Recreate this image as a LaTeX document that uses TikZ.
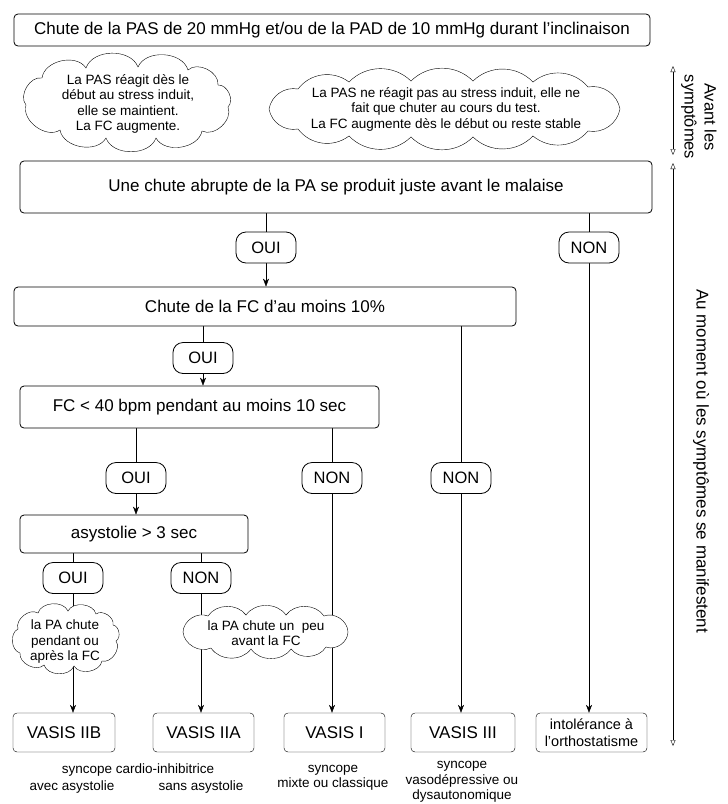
\documentclass[tikz,border=0pt]{standalone}
\usepackage{fontspec}
\setmainfont{Liberation Sans}
\usetikzlibrary{arrows.meta}
\pgfdeclarelayer{background}
\pgfdeclarelayer{mid}
\pgfsetlayers{background,mid,main}
% cloud outline: cx, cy, bend, first dx/dy, remaining dx/dy list (clockwise)
\newcommand\cloudpts[6]{%
  \path[draw,fill=white] ({#1+#4},{#2+#5})
    \foreach \dx/\dy in {#6}{ to[bend left=#3] ({#1+\dx},{#2+\dy}) }
    to[bend left=#3] ({#1+#4},{#2+#5}) -- cycle;}
\begin{document}
\begin{tikzpicture}[x=1pt,y=-1pt,line width=0.8pt,
  box/.style={draw,rounded corners=4pt,fill=white,inner sep=0pt,align=center,font=\fontsize{17}{20}\selectfont},
  pill/.style={draw,rounded corners=10pt,fill=white,inner sep=0pt,minimum width=60pt,minimum height=31pt,font=\fontsize{16.5}{19}\selectfont},
  cloudtext/.style={inner sep=0pt,align=center,font=\fontsize{13.5}{15.5}\selectfont},
  capt/.style={inner sep=0pt,align=center,font=\fontsize{13.5}{15.5}\selectfont},
  side/.style={inner sep=0pt,align=center,rotate=-90,font=\fontsize{16.5}{20}\selectfont},
  arr/.style={-{Stealth[length=8pt,width=6pt,inset=2.5pt]}},
  dbl/.style={{Triangle[open,length=6pt,width=5pt]}-{Triangle[open,length=6pt,width=5pt]}}
]
\useasboundingbox (0,0) rectangle (728,804);
% main boxes
\node[box,minimum width=636pt,minimum height=32pt] (top) at (332,30) {Chute de la PAS de 20 mmHg et/ou de la PAD de 10 mmHg durant l'inclinaison};
\node[cloudtext] (c1) at (128,104) {La PAS réagit dès le\\début au stress induit,\\elle se maintient.\\La FC augmente.};
\node[cloudtext] (c2) at (446,109) {La PAS ne réagit pas au stress induit, elle ne\\fait que chuter au cours du test.\\La FC augmente dès le début ou reste stable};
\node[box,minimum width=632pt,minimum height=52pt] (b1) at (336,187) {Une chute abrupte de la PA se produit juste avant le malaise};
\node[pill] (oui1) at (266,247.5) {OUI};
\node[pill] (non1) at (589,247.5) {NON};
\node[box,minimum width=502pt,minimum height=39pt] (b2) at (265,306.5) {Chute de la FC d'au moins 10\%};
\node[pill] (oui2) at (203,358) {OUI};
\node[box,minimum width=359pt,minimum height=42pt] (b3) at (199.5,407) {FC < 40 bpm pendant au moins 10 sec};
\node[pill] (oui3) at (136,478) {OUI};
\node[pill] (non3) at (332,478) {NON};
\node[pill] (non2) at (461,478) {NON};
\node[box,minimum width=228pt,minimum height=38pt] (b4) at (134,534) {asystolie > 3 sec};
\node[pill] (oui4) at (73,578) {OUI};
\node[pill] (non4) at (201,578) {NON};
\node[cloudtext] (c3) at (65,642) {la PA chute\\pendant ou\\après la FC};
\node[cloudtext] (c4) at (266,633) {la PA chute un~ peu\\avant la FC};
% cloud outlines
\begin{pgfonlayer}{mid}
\cloudpts{128}{103}{70}{100}{4}{74/28, 28/35, -22/35, -68/27, -102/2, -86/-25, -42/-35, 10/-36, 60/-33, 90/-18}
\cloudpts{446}{109}{45}{174}{0}{142/22, 87/27, 27/28, -35/28, -97/27, -148/20, -177/0, -148/-20, -97/-27, -35/-28, 27/-28, 87/-27, 142/-22}
\cloudpts{66}{639}{70}{50}{2}{36/22, 8/27, -22/26, -46/14, -48/-10, -28/-26, 2/-28, 30/-25, 47/-14}
\cloudpts{266}{632}{55}{82}{0}{60/15, 25/17, -15/17, -55/16, -83/0, -58/-16, -20/-17, 20/-17, 58/-16}
\end{pgfonlayer}
% results
\node[box,minimum width=102pt,minimum height=39pt] (v2b) at (64,732.5) {VASIS IIB};
\node[box,minimum width=101pt,minimum height=39pt] (v2a) at (203.5,732.5) {VASIS IIA};
\node[box,minimum width=101pt,minimum height=39pt] (v1) at (334.5,732.5) {VASIS I};
\node[box,minimum width=104pt,minimum height=39pt] (v3) at (463,732.5) {VASIS III};
\node[box,minimum width=111pt,minimum height=39pt,font=\fontsize{14.5}{17.5}\selectfont] (vi) at (591.5,732.5) {intolérance à\\l'orthostatisme};
% captions
\node[capt] (k1) at (138,770) {syncope cardio-inhibitrice};
\node[capt] (k2) at (72,787) {avec asystolie};
\node[capt] (k3) at (201,787) {sans asystolie};
\node[capt] (k4) at (333,778) {syncope\\mixte ou classique};
\node[capt] (k5) at (462,782) {syncope\\vasodépressive ou\\dysautonomique};
% side labels
\coordinate (s1t) at (673,66);
\coordinate (s1b) at (673,155);
\coordinate (s2t) at (673,163);
\coordinate (s2b) at (673,746);
\draw[dbl] (s1t) -- (s1b);
\draw[dbl] (s2t) -- (s2b);
\node[side] (l1) at (699,117) {Avant les\\symptômes};
\node[side,font=\fontsize{17}{20}\selectfont] (l2) at (701,461) {Au moment où les symptômes se manifestent};
% connectors
\begin{pgfonlayer}{background}
\draw (b1.south -| oui1) -- (oui1);
\draw[arr] (oui1) -- (b2.north -| oui1);
\draw (b1.south -| non1) -- (non1);
\draw[arr] (non1) -- (vi.north -| non1);
\draw (b2.south -| oui2) -- (oui2);
\draw[arr] (oui2) -- (b3.north -| oui2);
\draw (b2.south -| non2) -- (non2);
\draw[arr] (non2) -- (v3.north -| non2);
\draw (b3.south -| oui3) -- (oui3);
\draw[arr] (oui3) -- (b4.north -| oui3);
\draw (b3.south -| non3) -- (non3);
\draw[arr] (non3) -- (v1.north -| non3);
\draw (b4.south -| oui4) -- (oui4);
\draw[arr] (oui4) -- (v2b.north -| oui4);
\draw (b4.south -| non4) -- (non4);
\draw[arr] (non4) -- (v2a.north -| non4);
\end{pgfonlayer}
\end{tikzpicture}
\end{document}
